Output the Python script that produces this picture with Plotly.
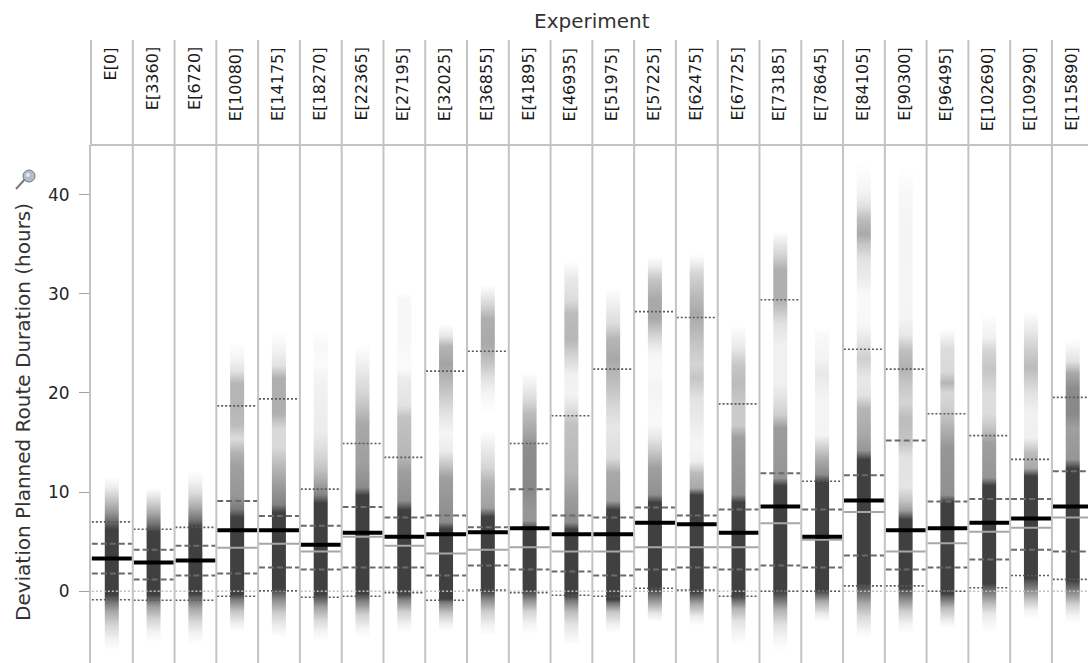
import plotly.graph_objects as go

# ---- data -----------------------------------------------------------------
EXPERIMENTS = [
    "E[0]", "E[3360]", "E[6720]", "E[10080]", "E[14175]", "E[18270]",
    "E[22365]", "E[27195]", "E[32025]", "E[36855]", "E[41895]", "E[46935]",
    "E[51975]", "E[57225]", "E[62475]", "E[67725]", "E[73185]", "E[78645]",
    "E[84105]", "E[90300]", "E[96495]", "E[102690]", "E[109290]", "E[115890]",
]

MEDIAN = [3.3, 2.9, 3.1, 6.15, 6.15, 4.7, 5.9, 5.5, 5.75, 5.95, 6.35, 5.75,
          5.75, 6.9, 6.75, 5.9, 8.55, 5.5, 9.15, 6.15, 6.35, 6.9, 7.35, 8.55]
MEAN = [3.3, 2.9, 3.1, 4.4, 4.8, 4.0, 5.5, 4.6, 3.8, 4.2, 4.45, 4.0,
        4.0, 4.45, 4.45, 4.45, 6.85, 5.2, 8.0, 4.0, 4.85, 6.0, 6.4, 7.45]
Q_LOW = [1.8, 1.2, 1.6, 1.8, 2.4, 2.2, 2.4, 2.4, 1.6, 2.6, 2.2, 2.0,
         1.6, 2.2, 2.4, 2.2, 2.6, 2.4, 3.6, 2.2, 2.4, 3.2, 4.2, 4.0]
Q_HIGH = [4.8, 4.2, 4.6, 9.1, 7.6, 6.6, 8.5, 7.45, 7.65, 6.45, 10.3, 7.65,
          7.45, 8.45, 7.65, 8.25, 11.9, 8.25, 11.7, 15.2, 9.05, 9.3, 9.3, 12.1]
P_LOW = [-0.85, -0.9, -0.9, -0.5, 0.05, -0.6, -0.5, -0.15, -0.9, 0.13, -0.15, -0.4,
         -0.5, 0.3, 0.13, -0.5, 0.0, 0.0, 0.55, 0.55, 0.0, 0.36, 1.6, 1.2]
P_HIGH = [7.0, 6.25, 6.45, 18.7, 19.4, 10.3, 14.9, 13.5, 22.2, 24.2, 14.9, 17.7,
          22.4, 28.2, 27.6, 18.9, 29.4, 11.1, 24.4, 22.4, 17.9, 15.7, 13.3, 19.55]
REFERENCE = 0.0

# density profile of each experiment: (hours, shade), shade 1 = darkest
STRIP_PROFILES = [
    [(-5.8, 0), (-4.8, .06), (-3.5, .2), (-2, .45), (-0.8, .8), (-0.3, 1), (6.3, 1), (7, .8),
     (8, .55), (9.3, .3), (10.5, .1), (11.5, 0)],
    [(-5, 0), (-4, .06), (-2.8, .22), (-1.5, .5), (-0.6, .85), (-0.3, 1), (6.1, 1), (6.8, .75),
     (8, .45), (9.2, .2), (10.4, 0)],
    [(-5.2, 0), (-4.2, .06), (-3, .2), (-1.7, .45), (-0.6, .8), (-0.2, 1), (6.5, 1), (7.2, .75),
     (8.5, .45), (10, .18), (11.2, .06), (12.2, 0)],
    [(-4, 0), (-3.2, .08), (-2, .3), (-0.8, .7), (-0.3, 1), (7.5, 1), (8.3, .7), (9.5, .55),
     (12.5, .5), (14, .4), (15.5, .18), (16.8, .35), (18.5, .38), (21, .38), (22.2, .15),
     (23.5, .05), (25, 0)],
    [(-4.5, 0), (-3.5, .08), (-2.2, .25), (-0.8, .6), (0.3, 1), (8, 1), (8.8, .65), (11, .5),
     (12.8, .35), (14.5, .2), (16.5, .2), (18, .42), (21.5, .42), (22.8, .15), (24.5, .06),
     (26.2, 0)],
    [(-5, 0), (-4, .06), (-2.8, .2), (-1.5, .5), (-0.5, .9), (-0.2, 1), (9, 1), (9.8, .65),
     (11.2, .45), (12.5, .3), (14.2, .18), (16, .1), (19.5, .08), (21.5, .06), (23, .02),
     (24.8, .04), (26.2, 0)],
    [(-4.6, 0), (-3.6, .07), (-2.3, .25), (-1, .65), (-0.2, 1), (9.7, 1), (10.5, .6), (13, .5),
     (17, .45), (18.5, .32), (20, .22), (22, .12), (23.5, .05), (24.8, 0)],
    [(-4.1, 0), (-3.2, .07), (-2, .25), (-0.8, .65), (-0.2, 1), (8.3, 1), (9.2, .58), (12.2, .5),
     (13.5, .38), (17.5, .32), (18.8, .15), (21.5, .1), (22.5, .02), (25, .04), (29.5, .04),
     (30, 0)],
    [(-4, 0), (-3.2, .08), (-2.1, .3), (-1, .7), (-0.7, 1), (6.3, 1), (7, .6), (11.5, .5),
     (12.8, .3), (14.2, .1), (16, .05), (18, .15), (20.5, .32), (23, .48), (24.8, .38),
     (25.8, .12), (27, 0)],
    [(-4.3, 0), (-3.3, .07), (-2, .25), (-0.8, .6), (0.1, 1), (7.6, 1), (8.5, .5), (11, .4),
     (12.5, .22), (14.5, .1), (16.2, 0), (18, 0), (20, .05), (21.5, .15), (23, .3), (25, .45),
     (27.5, .42), (29, .2), (30.3, .05), (31, 0)],
    [(-4.2, 0), (-3.2, .06), (-2, .22), (-0.8, .6), (0.1, 1), (6.3, 1), (7.2, .55), (8.5, .55),
     (10.5, .62), (14.5, .6), (16, .47), (18, .35), (19.5, .18), (21, .07), (22.2, 0)],
    [(-5.3, 0), (-4.5, .05), (-3.2, .15), (-2, .35), (-0.9, .7), (-0.4, 1), (6.3, 1), (7, .6),
     (9.8, .5), (12, .38), (17, .32), (18.5, .16), (20, .06), (22, .08), (23.5, .2),
     (25.5, .38), (28, .35), (29.5, .18), (31.5, .12), (33.3, 0)],
    [(-4.1, 0), (-3.2, .08), (-2, .3), (-1.1, .75), (-0.8, 1), (8.3, 1), (9.2, .5), (12, .45),
     (13.5, .18), (16.5, .12), (18.5, .2), (21, .33), (23.5, .45), (25.5, .38), (27, .18),
     (29, .08), (30.5, 0)],
    [(-3, 0), (-2.2, .12), (-1.2, .45), (0.3, 1), (9, 1), (9.8, .58), (12.5, .5), (14, .3),
     (15.5, .12), (17, .03), (20.5, .06), (22, .03), (24, .05), (25.5, .18), (27.5, .45),
     (29.5, .45), (31.5, .3), (32.8, .1), (33.8, 0)],
    [(-3.4, 0), (-2.5, .1), (-1.2, .45), (0, 1), (9.7, 1), (10.5, .45), (12, .35), (13.2, .08),
     (15, .05), (17, .1), (19.5, .15), (21.5, .3), (23, .22), (25, .3), (28, .45), (30, .35),
     (32, .22), (33.3, .06), (34, 0)],
    [(-5.3, 0), (-4.2, .05), (-2.9, .15), (-1.7, .4), (-0.7, .85), (-0.5, 1), (9, 1), (9.8, .58),
     (15.5, .5), (16.8, .28), (19, .28), (21, .35), (22.8, .3), (24.5, .12), (26.8, 0)],
    [(-6, 0), (-4.8, .04), (-3.3, .15), (-1.8, .4), (-0.3, .9), (0.1, 1), (10.7, 1), (11.5, .55),
     (16.5, .52), (17.8, .25), (19.5, .15), (21, .08), (25, .08), (27, .15), (29.5, .42),
     (32.5, .42), (34, .22), (35.5, .08), (36.3, 0)],
    [(-3, 0), (-2.2, .12), (-1, .45), (0.1, 1), (11, 1), (11.8, .6), (13.2, .45), (14.6, .25),
     (15.8, .06), (19, .05), (20.5, .08), (22, .12), (23.5, .06), (26, .03), (26.5, 0)],
    [(-4.7, 0), (-3.8, .06), (-2.5, .2), (-1.2, .45), (0.2, .85), (0.8, 1), (13.3, 1), (14.2, .55),
     (16, .45), (18.5, .38), (19.8, .15), (21.5, .12), (23.5, .25), (25.5, .12), (27, .04),
     (30, .03), (31.5, .1), (33.5, .15), (35, .3), (36, .45), (37.5, .35), (39, .15),
     (40.5, .05), (43.3, 0)],
    [(-4.2, 0), (-3.3, .06), (-2, .25), (-0.8, .6), (0.4, 1), (7.3, 1), (8.2, .5), (9.2, .3),
     (10.5, .14), (13.5, .15), (15, .3), (17.5, .35), (19, .22), (21, .3), (22.5, .4),
     (24.3, .33), (25.8, .12), (27.5, .06), (30, .05), (36, .06), (40, .04), (42.8, 0)],
    [(-3.6, 0), (-2.8, .1), (-1.6, .35), (-0.4, .85), (-0.2, 1), (9, 1), (9.8, .58), (14.5, .55),
     (16.5, .4), (18.5, .25), (20, .2), (21, .38), (22.2, .2), (24.5, .18), (26.5, 0)],
    [(-4.1, 0), (-3.2, .04), (-2.2, .12), (-1.2, .35), (0.3, .8), (0.8, 1), (10.7, 1), (11.5, .55),
     (15, .5), (16.5, .3), (18, .18), (20, .18), (22.5, .3), (24.3, .22), (25.5, .08), (28, 0)],
    [(-2.7, 0), (-1.9, .07), (-1, .25), (0, .55), (1, .85), (1.4, 1), (11.7, 1), (12.5, .45),
     (14, .35), (15.5, .08), (18, .07), (20, .15), (22.5, .35), (24.5, .25), (26.5, .1),
     (28.3, 0)],
    [(-3.2, 0), (-2.4, .06), (-1.4, .22), (-0.3, .55), (0.8, .9), (1.1, 1), (12.4, 1), (13.3, .55),
     (16.5, .5), (18, .62), (20.5, .6), (22, .45), (23.2, .15), (24.5, .05), (25.4, 0)],
]

Y_TICKS = [0, 10, 20, 30, 40]

# ---- layout constants -------------------------------------------------------
W, H = 1088, 663
LEFT = 91            # left edge of the trellis
HEADER_TOP = 40      # top of the header row (px from top)
HEADER_BOTTOM = 145  # header/plot divider (px from top)
COL_PX = 41.78       # width of one experiment column
X_MAX = (W - LEFT) / COL_PX
Y_RANGE = [-7.23, 45.0]
STRIP_WIDTH = 0.34
GRID = "#c3c3c3"
FONT = "DejaVu Sans"
STRIP_SCALE = [[0, "rgb(255,255,255)"], [1, "rgb(64,64,64)"]]

n = len(EXPERIMENTS)
plot_top = (H - HEADER_BOTTOM) / H
head_top = (H - HEADER_TOP) / H

fig = go.Figure()

# density strips, smoothly shaded between profile points
for i, profile in enumerate(STRIP_PROFILES):
    c = i + 0.5
    fig.add_trace(go.Heatmap(
        x=[c - STRIP_WIDTH / 2, c, c + STRIP_WIDTH / 2],
        y=[p[0] for p in profile],
        z=[[p[1], p[1]] for p in profile],
        zmin=0, zmax=1, zsmooth="best", colorscale=STRIP_SCALE,
        showscale=False, hoverinfo="skip",
    ))


def column_segments(values):
    sx, sy = [], []
    for i, v in enumerate(values):
        sx += [i + 0.02, i + 0.98, None]
        sy += [v, v, None]
    return sx, sy


def add_stat(values, color, width, dash):
    sx, sy = column_segments(values)
    fig.add_trace(go.Scatter(
        x=sx, y=sy, mode="lines",
        line=dict(color=color, width=width, dash=dash),
        hoverinfo="skip", showlegend=False,
    ))


add_stat([REFERENCE] * n, "#bdbdbd", 1.6, "2px,2px")
add_stat(P_LOW, "#5a5a5a", 1.6, "2px,2px")
add_stat(P_HIGH, "#5a5a5a", 1.6, "2px,2px")
add_stat(Q_LOW, "#6a6a6a", 2, "6px,3px")
add_stat(Q_HIGH, "#6a6a6a", 2, "6px,3px")
add_stat(MEAN, "#a6a6a6", 2, "solid")
add_stat(MEDIAN, "#000000", 4, "solid")

# column separators through plot and header
shapes = []
for i in range(1, n):
    shapes.append(dict(type="line", xref="x", yref="paper", x0=i, x1=i, y0=0, y1=head_top,
                       line=dict(color=GRID, width=2), layer="above"))
shapes.append(dict(type="line", xref="paper", yref="paper", x0=0, x1=0, y0=plot_top, y1=head_top,
                   line=dict(color=GRID, width=2)))
shapes.append(dict(type="line", xref="paper", yref="paper", x0=0, x1=1, y0=plot_top, y1=plot_top,
                   line=dict(color=GRID, width=2)))


def px_x(v):
    return (v - LEFT) / (W - LEFT)


def px_y(v):
    return (H - v) / H


# small pin icon next to the axis title
shapes.append(dict(type="line", xref="paper", yref="paper", x0=px_x(16), y0=px_y(189),
                   x1=px_x(26), y1=px_y(178), line=dict(color="#7a7a7a", width=2)))
shapes.append(dict(type="circle", xref="paper", yref="paper", x0=px_x(23), x1=px_x(35),
                   y0=px_y(182), y1=px_y(170), fillcolor="#b3bcc6",
                   line=dict(color="#6f7780", width=1)))
shapes.append(dict(type="circle", xref="paper", yref="paper", x0=px_x(26), x1=px_x(30),
                   y0=px_y(177), y1=px_y(173), fillcolor="#e6eaee", line=dict(width=0)))

annotations = []
for i, name in enumerate(EXPERIMENTS):
    annotations.append(dict(
        x=i + 0.5, xref="x", y=(H - 45) / H, yref="paper",
        text=name, showarrow=False, textangle=-90,
        xanchor="center", yanchor="top", xshift=-1,
        font=dict(family=FONT, size=16, color="#1a1a1a"),
    ))
annotations.append(dict(
    x=n / 2, xref="x", y=(H - 21) / H, yref="paper", text="Experiment",
    showarrow=False, xanchor="center", yanchor="middle",
    font=dict(family=FONT, size=20, color="#333333"),
))
annotations.append(dict(
    x=px_x(23), xref="paper", y=px_y(412), yref="paper",
    text="Deviation Planned Route Duration (hours)", showarrow=False, textangle=-90,
    xanchor="center", yanchor="middle",
    font=dict(family=FONT, size=20, color="#333333"),
))

fig.update_layout(
    width=W, height=H,
    margin=dict(l=LEFT, r=0, t=0, b=0),
    paper_bgcolor="white", plot_bgcolor="white",
    showlegend=False,
    xaxis=dict(range=[0, X_MAX], showgrid=False, zeroline=False, showticklabels=False,
               ticks="", showline=False, fixedrange=True),
    yaxis=dict(domain=[0, plot_top], range=Y_RANGE, tickvals=Y_TICKS, ticks="outside",
               ticklen=10, tickwidth=1, tickcolor="#a0a0a0", showgrid=False, zeroline=False,
               showline=True, linecolor=GRID, linewidth=2, ticklabelstandoff=6,
               tickfont=dict(family=FONT, size=17, color="#262626"), fixedrange=True),
    shapes=shapes,
    annotations=annotations,
)

fig.write_html("out.html")
